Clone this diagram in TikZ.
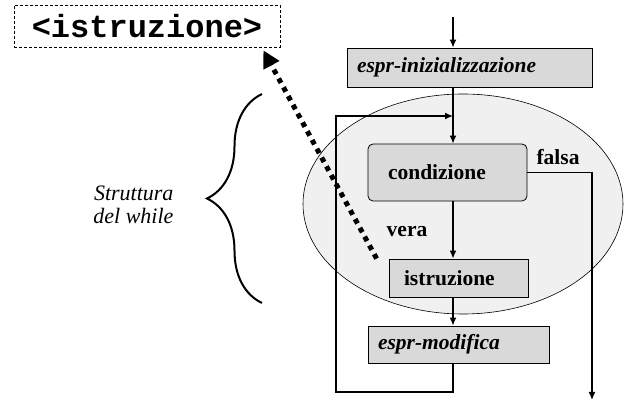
\documentclass[tikz,border=0pt]{standalone}
\usepackage{fontspec}
\setmainfont{Liberation Serif}
\setmonofont{Liberation Mono}
\usetikzlibrary{arrows.meta,shapes.geometric,decorations.pathreplacing}

\definecolor{grigiobox}{gray}{0.85}
\definecolor{grigiociclo}{gray}{0.94}

\tikzset{
  blocco/.style={draw, fill=grigiobox, line width=0.8pt, inner sep=0pt, inner xsep=10pt,
    align=left, font=\fontsize{21.5}{24}\selectfont\bfseries},
  freccia/.style={-{Latex[length=8pt,width=7pt]}, line width=1.4pt},
  etichetta/.style={font=\fontsize{21.5}{24}\selectfont\bfseries}
}

\begin{document}
\begin{tikzpicture}[x=1pt,y=-1pt]
\useasboundingbox (0,0) rectangle (625,403);

\node[ellipse, draw, fill=grigiociclo, line width=0.6pt, minimum width=320pt, minimum height=220pt] (ciclo) at (463,204) {};

\node[blocco, text width=225pt, minimum height=39pt] (init) at (469.5,67.5) {\itshape espr-inizializzazione};
\node[blocco, rounded corners=5pt, inner xsep=20pt, text width=119pt, minimum height=57pt] (cond) at (447.5,172.5) {condizione};
\node[blocco, inner xsep=15pt, text width=109pt, minimum height=38pt] (istr) at (458.5,278) {istruzione};
\node[blocco, text width=161pt, minimum height=37pt] (mod) at (458.5,344.5) {\itshape espr-modifica};

\coordinate (inizio) at (453,17);
\coordinate (rientro) at (453,116);
\coordinate (ritorno) at (336,392);
\coordinate (uscita) at (592,400);

\draw[freccia] (inizio) -- (init.north -| inizio);
\draw[freccia] (init.south -| inizio) -- (cond.north -| inizio);
\draw[freccia] (cond.south -| inizio) -- (istr.north -| inizio);
\draw[freccia] (istr.south -| inizio) -- (mod.north -| inizio);
\draw[freccia] (mod.south -| inizio) |- (ritorno) |- (rientro);
\draw[freccia] (cond.east) -| (uscita);

\node[etichetta] (vera) at (407,232) {vera};
\node[etichetta] (falsa) at (558,157) {falsa};

\node[draw, dashed, dash pattern=on 3pt off 2pt, line width=0.7pt, minimum width=266pt, minimum height=42pt,
  font=\fontsize{32}{34}\selectfont\ttfamily\bfseries] (sintassi) at (147,26) {<istruzione>};
\draw[line width=5pt, dash pattern=on 5pt off 5pt, -{Triangle[length=17pt,width=17pt]}]
  ([xshift=-12pt]istr.north west) -- ([xshift=-17pt,yshift=-3pt]sintassi.south east);

\draw[decorate, decoration={brace, amplitude=55pt}, line width=2pt] (262,303) -- (262,94);
\node[anchor=east, align=right, font=\fontsize{22}{23}\selectfont\itshape] (nome) at (177,205) {Struttura\\del while};
\end{tikzpicture}
\end{document}
